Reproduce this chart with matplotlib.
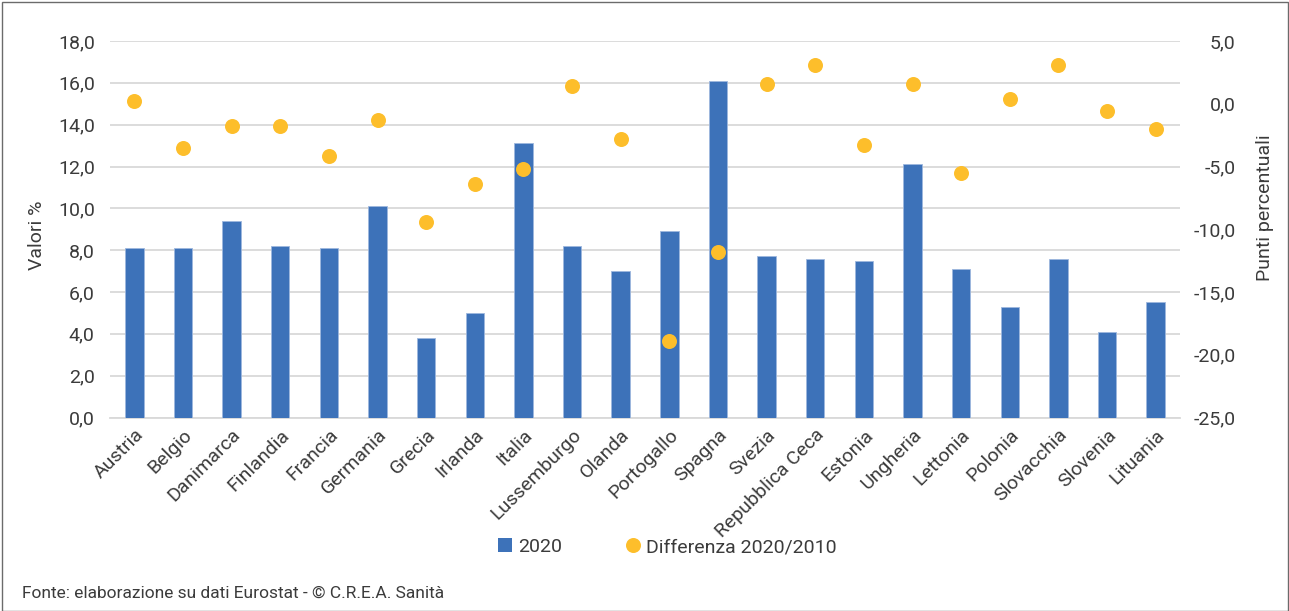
import matplotlib
matplotlib.use("Agg")
import matplotlib.pyplot as plt
from matplotlib import font_manager
from matplotlib.lines import Line2D
from matplotlib.patches import Rectangle
from matplotlib.ticker import FuncFormatter, MultipleLocator

# Pick a narrow sans-serif if available
available = {f.name for f in font_manager.fontManager.ttflist}
family = "Liberation Sans Narrow" if "Liberation Sans Narrow" in available else "Roboto"
plt.rcParams["font.family"] = [family, "DejaVu Sans"]

countries = ["Austria", "Belgio", "Danimarca", "Finlandia", "Francia", "Germania",
             "Grecia", "Irlanda", "Italia", "Lussemburgo", "Olanda", "Portogallo",
             "Spagna", "Svezia", "Repubblica Ceca", "Estonia", "Ungheria", "Lettonia",
             "Polonia", "Slovacchia", "Slovenia", "Lituania"]
valori_2020 = [8.1, 8.1, 9.4, 8.2, 8.1, 10.1, 3.8, 5.0, 13.1, 8.2, 7.0, 8.9,
               16.1, 7.7, 7.6, 7.5, 12.1, 7.1, 5.3, 7.6, 4.1, 5.5]
diff_2020_2010 = [0.2, -3.5, -1.8, -1.8, -4.2, -1.3, -9.4, -6.4, -5.2, 1.4, -2.8, -18.9,
                  -11.8, 1.6, 3.1, -3.3, 1.6, -5.5, 0.4, 3.1, -0.6, -2.0]

BAR_COLOR = "#3D72B9"
DOT_COLOR = "#FDBE2B"
TEXT_COLOR = "#3b3b3b"
GRID_COLOR = "#D9D9D9"

W, H = 1289, 611
fig = plt.figure(figsize=(W / 100, H / 100), dpi=100)
ax = fig.add_axes([110 / W, 1 - 417.5 / H, (1180 - 110) / W, (417.5 - 41) / H])
ax2 = ax.twinx()

x = list(range(len(countries)))
ax.bar(x, valori_2020, width=0.38, color=BAR_COLOR, edgecolor="#9DB7DE",
       linewidth=0.6, zorder=3)
ax2.plot(x, diff_2020_2010, linestyle="none", marker="o", markersize=10.8,
         color=DOT_COLOR, markeredgewidth=0, zorder=4)

ax.set_xlim(-0.5, len(countries) - 0.5)
ax.set_ylim(0, 18)
ax2.set_ylim(-25, 5)
ax.yaxis.set_major_locator(MultipleLocator(2))
ax2.yaxis.set_major_locator(MultipleLocator(5))

comma = FuncFormatter(lambda v, p: f"{v:.1f}".replace(".", ","))
ax.yaxis.set_major_formatter(comma)
ax2.yaxis.set_major_formatter(comma)

ax.grid(axis="y", color=GRID_COLOR, linewidth=1.3, zorder=0)
ax.set_axisbelow(True)
for a in (ax, ax2):
    for s in a.spines.values():
        s.set_visible(False)
ax.spines["bottom"].set_visible(True)
ax.spines["bottom"].set_color(GRID_COLOR)
ax.spines["bottom"].set_linewidth(1.3)

ax.tick_params(axis="y", length=0, pad=11, labelsize=14, labelcolor=TEXT_COLOR)
ax2.tick_params(axis="y", length=0, pad=40, labelsize=14, labelcolor=TEXT_COLOR)
for lbl in ax2.get_yticklabels():
    lbl.set_horizontalalignment("right")

ax.set_xticks(x)
ax.set_xticklabels(countries, rotation=45, ha="right", rotation_mode="anchor",
                   fontsize=14, color=TEXT_COLOR)
ax.tick_params(axis="x", length=0, pad=6)

fig.text(37 / W, 1 - 235 / H, "Valori %", rotation=90, ha="center", va="center",
         fontsize=14, color=TEXT_COLOR)
fig.text(1265 / W, 1 - 208 / H, "Punti percentuali", rotation=90, ha="center",
         va="center", fontsize=14, color=TEXT_COLOR)

handles = [
    Line2D([], [], linestyle="none", marker="s", markersize=10, color=BAR_COLOR,
           markeredgewidth=0),
    Line2D([], [], linestyle="none", marker="o", markersize=10.8, color=DOT_COLOR,
           markeredgewidth=0),
]
fig.legend(handles, ["2020", "Differenza 2020/2010"], loc="center",
           bbox_to_anchor=(667 / W, 1 - 547 / H), ncol=2, frameon=False,
           fontsize=14, handlelength=0.8, handletextpad=0.3, columnspacing=3.2,
           labelcolor=TEXT_COLOR)

fig.text(22 / W, 1 - 593 / H, "Fonte: elaborazione su dati Eurostat - © C.R.E.A. Sanità",
         ha="left", va="center", fontsize=12.5, color=TEXT_COLOR)

fig.patches.append(Rectangle((1.5 / W, 0.5 / H), (W - 3) / W, (H - 2) / H,
                             transform=fig.transFigure, fill=False,
                             edgecolor="#6b6b6b", linewidth=1.0))

fig.savefig("out.png", dpi=100)
